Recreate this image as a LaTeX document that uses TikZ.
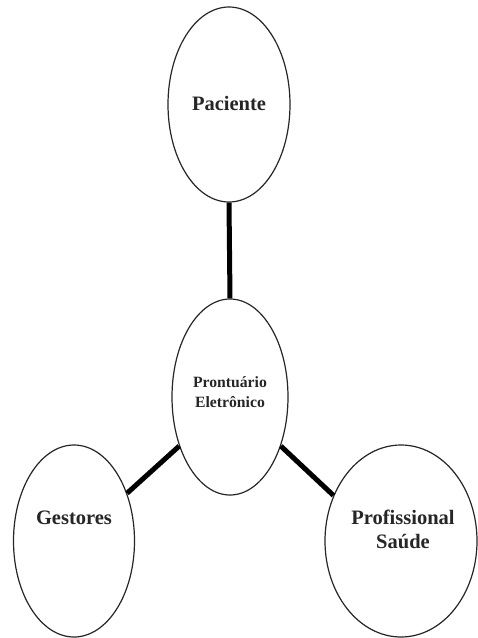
\documentclass[tikz,border=0pt]{standalone}
\usepackage{fontspec}
\setmainfont{Liberation Serif}
\usetikzlibrary{shapes.geometric}
\tikzset{
  oval/.style={ellipse, draw=black!85, line width=1.2pt, inner sep=0pt, fill=white},
  bigtxt/.style={font=\bfseries\fontsize{20.5}{24}\selectfont, align=center, inner sep=0pt, text=black!85},
  smalltxt/.style={font=\bfseries\fontsize{15.7}{20}\selectfont, align=center, inner sep=0pt, text=black!85},
  link/.style={line width=5pt, black}
}
\begin{document}
\begin{tikzpicture}[x=1pt, y=-1pt]
  \useasboundingbox (0,0) rectangle (478,638);
  \node[oval, minimum width=122pt, minimum height=195pt] (pac) at (229,104.5) {};
  \node[oval, minimum width=116pt, minimum height=196pt] (pro) at (230,397) {};
  \node[oval, minimum width=121pt, minimum height=192pt] (ges) at (74,541) {};
  \node[oval, minimum width=152pt, minimum height=192pt] (prof) at (401,541) {};
  \draw[link] (pac.south) -- (pro.north);
  \draw[link] (pro.-136) -- (ges.42);
  \draw[link] (pro.-44) -- (prof.146);
  \node[bigtxt] (pacT) at (229,103) {Paciente};
  \node[smalltxt] (proT) at (230,392) {Prontuário\\Eletrônico};
  \node[bigtxt] (gesT) at (74,518) {Gestores};
  \node[bigtxt] (profT) at (403,529) {Profissional\\Saúde};
\end{tikzpicture}
\end{document}
